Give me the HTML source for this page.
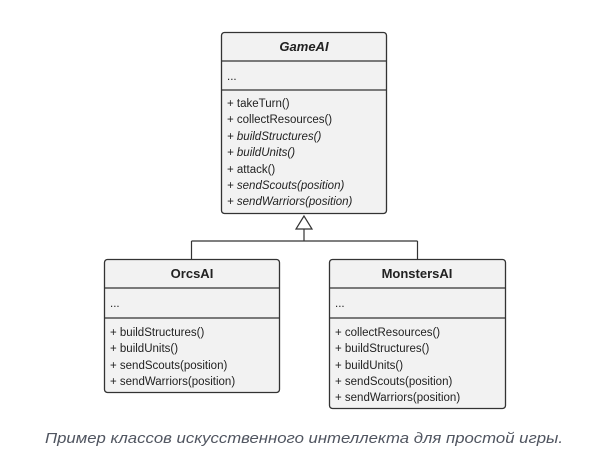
<!DOCTYPE html>
<html><head><meta charset="utf-8"><style>
html,body{margin:0;padding:0;background:#fff;}
svg{display:block;}
text{font-family:"Liberation Sans","DejaVu Sans",sans-serif;font-size:11.5px;fill:#222;}
.i{font-style:italic;}
.h{font-weight:bold;font-size:13px;}
</style></head><body>
<svg width="595" height="453" viewBox="0 0 595 453">
<g stroke="#333" stroke-width="1.3" fill="#f2f2f2">
<rect x="221.5" y="32.5" width="165" height="181" rx="3"/>
<line x1="221.5" y1="61" x2="386.5" y2="61"/>
<line x1="221.5" y1="90" x2="386.5" y2="90"/>
<rect x="104.5" y="259.5" width="175" height="133" rx="3"/>
<line x1="104.5" y1="288" x2="279.5" y2="288"/>
<line x1="104.5" y1="318" x2="279.5" y2="318"/>
<rect x="329.5" y="259.5" width="176" height="149" rx="3"/>
<line x1="329.5" y1="288" x2="505.5" y2="288"/>
<line x1="329.5" y1="318" x2="505.5" y2="318"/>
</g>
<g stroke="#333" stroke-width="1.2" fill="none">
<line x1="304" y1="229" x2="304" y2="241"/>
<line x1="191.5" y1="241" x2="417.5" y2="241"/>
<line x1="191.5" y1="241" x2="191.5" y2="259"/>
<line x1="417.5" y1="241" x2="417.5" y2="259"/>
<polygon points="304,216 296,229 312,229" fill="#fff"/>
</g>
<text x="304" y="51" text-anchor="middle" class="h i">GameAI</text>
<text x="227" y="80">...</text>
<text x="227" y="107">+ takeTurn()</text>
<text x="227" y="123">+ collectResources()</text>
<text x="227" y="140" class="i">+ buildStructures()</text>
<text x="227" y="156" class="i">+ buildUnits()</text>
<text x="227" y="173">+ attack()</text>
<text x="227" y="189" class="i">+ sendScouts(position)</text>
<text x="227" y="205" class="i">+ sendWarriors(position)</text>

<text x="192" y="278" text-anchor="middle" class="h">OrcsAI</text>
<text x="110" y="307">...</text>
<text x="110" y="336">+ buildStructures()</text>
<text x="110" y="352">+ buildUnits()</text>
<text x="110" y="369">+ sendScouts(position)</text>
<text x="110" y="385">+ sendWarriors(position)</text>

<text x="417" y="278" text-anchor="middle" class="h">MonstersAI</text>
<text x="335" y="307">...</text>
<text x="335" y="336">+ collectResources()</text>
<text x="335" y="352">+ buildStructures()</text>
<text x="335" y="369">+ buildUnits()</text>
<text x="335" y="385">+ sendScouts(position)</text>
<text x="335" y="401">+ sendWarriors(position)</text>

<text x="45" y="443" class="i" style="font-size:14.5px;fill:#505560" textLength="518" lengthAdjust="spacingAndGlyphs">Пример классов искусственного интеллекта для простой игры.</text>
</svg>
</body></html>
